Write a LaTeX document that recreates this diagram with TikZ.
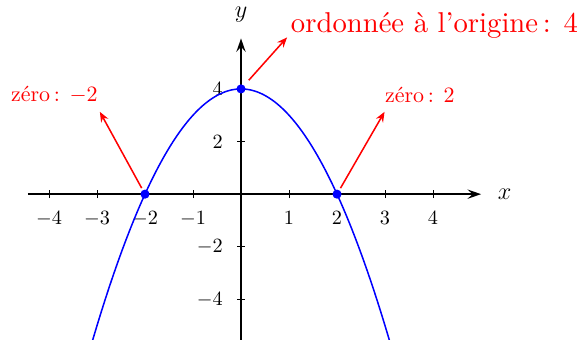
\documentclass[tikz,border=0pt]{standalone}
\usepackage{amsmath}
\usetikzlibrary{arrows.meta,positioning}

\begin{document}
\begin{tikzpicture}[x=1cm,y=0.548cm,
  axis/.style={line width=1pt,-{Stealth[length=8pt,width=5.5pt,inset=3pt]}},
  tickmark/.style={line width=0.5pt},
  ticklabel/.style={scale=1.2,inner sep=0pt},
  dot/.style={circle,fill=blue,inner sep=0pt,minimum size=5.4pt},
  callout/.style={red,line width=0.9pt,-{Stealth[length=6pt,width=4.8pt,inset=2pt]}},
  lbl/.style={red,inner sep=0.8pt}]
  \useasboundingbox (-5.02,-5.51) rectangle (7.04,7.38);

  % Axes
  \coordinate (xmin) at (-4.44,0);
  \coordinate (xmax) at (5,0);
  \coordinate (ymin) at (0,-5.6);
  \coordinate (ymax) at (0,5.92);
  \draw[axis] (xmin) -- (xmax);
  \draw[axis] (ymin) -- (ymax);
  \node[font=\Large,right=6.5pt of xmax] (xlabel) {$x$};
  \node[font=\Large,above=6pt of ymax] (ylabel) {$y$};

  % Ticks on x
  \foreach \t in {-4,-3,-2,-1,1,2,3,4} {
    \draw[tickmark] (\t,0) ++(0,-0.08cm) -- ++(0,0.16cm);
    \node[ticklabel,anchor=north] (xt\t) at ([yshift=-10pt]\t,0) {$\t$};
  }
  % Ticks on y
  \foreach \t in {-4,-2,2,4} {
    \draw[tickmark] (0,\t) ++(-0.08cm,0) -- ++(0.16cm,0);
    \node[ticklabel,anchor=east] (yt\t) at ([xshift=-10.6pt]0,\t) {$\t$};
  }

  % Parabola
  \draw[blue,line width=0.9pt,domain=-3.1:3.1,samples=120] plot (\x,{4-\x*\x});

  % Zeros and intercept
  \node[dot] (zA) at (-2,0) {};
  \node[dot] (zB) at (2,0) {};
  \node[dot] (yint) at (0,4) {};

  % Callouts
  \coordinate (zAtip) at (-2.94,3.13);
  \coordinate (zBtip) at (2.99,3.13);
  \coordinate (ytip) at (0.96,5.96);
  \draw[callout,shorten <=1.2pt] (zA) -- (zAtip);
  \draw[callout,shorten <=1.2pt] (zB) -- (zBtip);
  \draw[callout,shorten <=4pt] (yint) -- (ytip);
  \node[lbl,scale=1.3,anchor=base east] (zAlab) at ([yshift=5.9pt]zAtip) {zéro\,: $-2$};
  \node[lbl,scale=1.3,anchor=base west] (zBlab) at ([shift={(-1pt,5.3pt)}]zBtip) {zéro\,: $2$};
  \node[lbl,scale=1.7,anchor=base west] (ylab) at ([shift={(0.6pt,3pt)}]ytip) {ordonnée à l'origine\,: $4$};
\end{tikzpicture}
\end{document}
